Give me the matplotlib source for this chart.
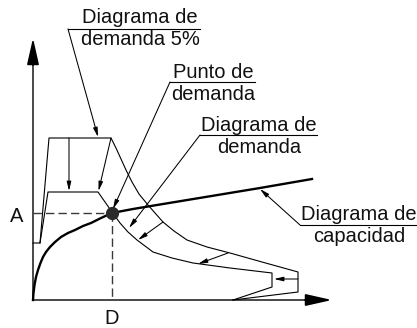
import matplotlib
matplotlib.use("Agg")
import matplotlib.pyplot as plt

plt.rcParams['font.family'] = ['Liberation Sans', 'DejaVu Sans']

# curva de capacidad (desplazamiento, aceleracion)
cap_x = [0, 0.5, 1.5, 3, 5, 7.5, 10, 13, 17, 22, 28, 35, 42, 50, 58, 68, 79, 100, 127, 227, 279]
cap_y = [0, 7, 15, 23, 30, 37, 43, 48, 53, 58, 63, 67, 70, 74, 77, 82, 87, 91, 95.5, 112, 121]

# espectro de demanda 5%
dem5_x = [0, 7, 16, 78, 83, 88, 93, 99, 106, 115, 122, 130, 141, 154, 174, 197, 229, 265, 265, 200]
dem5_y = [57, 57, 162, 162, 152, 141, 130, 118, 106, 95, 87, 78, 69, 60, 53, 47, 38, 28, 8, 0]

# espectro de demanda reducido
dem_x = [7, 15, 65, 72, 79, 87, 95, 104, 112, 120, 139, 160, 197, 239, 239, 200]
dem_y = [57, 108, 108, 98, 88, 77, 68, 60, 54, 48, 42, 37, 32, 27, 13, 0]

# punto de demanda
pt_d, pt_a = 79, 87

# flechas de reduccion (desde, hasta)
red_arrows = [((36, 162), (36, 109)),
              ((78, 162), (65.5, 109)),
              ((130, 78), (105, 60)),
              ((195, 47), (165, 36)),
              ((265, 21), (241, 21))]

# etiquetas: lineas de texto, centro x, lineas base, subrayado, destino
labels = [
    (["Diagrama de", "demanda 5%"], 107, [277, 255], (35, 167, 271), (65, 163)),
    (["Punto de", "demanda"], 180, [222, 200], (137, 222, 218), (80, 91)),
    (["Diagrama de", "demanda"], 226, [169, 147], (167, 284, 165), (96, 72)),
    (["Diagrama de", "capacidad"], 326, [80, 58], (267, 384, 75), (227, 111)),
]

fig = plt.figure(figsize=(4.17, 3.28), dpi=100)
ax = fig.add_axes([0, 0, 1, 1])
ax.set_xlim(-33, 384)
ax.set_ylim(-28, 300)
ax.axis('off')

# ejes con flechas
axc = '#3a3a3a'
ax.plot([0, 0], [0, 245], color=axc, lw=1.3)
ax.plot([0, 282], [0, 0], color=axc, lw=1.3)
big = dict(arrowstyle='-|>,head_length=1.6,head_width=0.36', color='black',
           lw=1.3, shrinkA=0, shrinkB=0, mutation_scale=10)
ax.annotate('', xy=(0, 262), xytext=(0, 235), arrowprops=big)
ax.annotate('', xy=(299, 0), xytext=(272, 0), arrowprops=big)

# lineas discontinuas al punto de demanda
ax.plot([0, pt_d], [pt_a, pt_a], color=axc, lw=1.0, dashes=(6, 3))
ax.plot([pt_d, pt_d], [pt_a, 0], color=axc, lw=1.0, dashes=(6, 3))

ax.plot(dem5_x, dem5_y, color='black', lw=0.8)
ax.plot(dem_x, dem_y, color='black', lw=0.8)
ax.plot(cap_x, cap_y, color='black', lw=1.7)
ax.plot([pt_d], [pt_a], 'o', color='#2a2a2a', ms=8.5)

small = dict(arrowstyle='-|>,head_length=0.55,head_width=0.13', color='black',
             lw=0.75, shrinkA=0, shrinkB=0, mutation_scale=10)
for start, end in red_arrows:
    ax.annotate('', xy=end, xytext=start, arrowprops=small)

for lines, cx, bases, (u0, u1, uy), target in labels:
    for txt, by in zip(lines, bases):
        ax.text(cx, by, txt, ha='center', va='baseline', fontsize=14.5, color='#111111')
    ax.plot([u0, u1], [uy, uy], color='black', lw=0.8)
    ax.annotate('', xy=target, xytext=(u0, uy), arrowprops=small)

ax.text(-16.5, 84, "A", ha='center', va='center', fontsize=14.5, color='#111111')
ax.text(pt_d, -18, "D", ha='center', va='center', fontsize=14.5, color='#111111')

fig.savefig("out.png", dpi=100)
